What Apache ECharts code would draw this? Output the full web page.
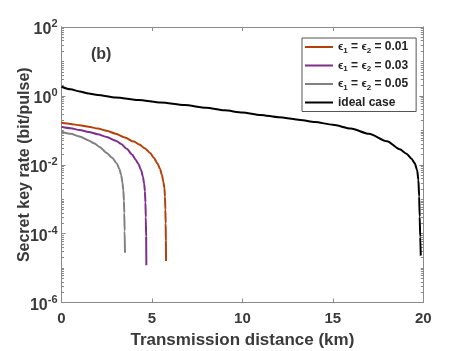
<!DOCTYPE html>
<html><head><meta charset="utf-8">
<script src="https://cdn.jsdelivr.net/npm/echarts@6/dist/echarts.min.js"></script>
<style>html,body{margin:0;padding:0;background:#fff}#c{width:468px;height:351px}</style>
</head><body><div id="c"></div>
<script>
// ---- data ----
const seriesNames = ['0.01', '0.03', '0.05', 'ideal case'];
const x001 = [0, 0.5, 1, 1.5, 2, 2.5, 3, 3.5, 4, 4.3, 4.6, 4.9, 5.1, 5.3, 5.45, 5.55, 5.63, 5.69, 5.72, 5.74, 5.76, 5.77, 5.78];
const y001 = [0.165, 0.153, 0.14, 0.127, 0.113, 0.097, 0.08, 0.062, 0.047, 0.039, 0.03, 0.022, 0.016, 0.011, 0.0075, 0.005, 0.0032, 0.0021, 0.0012, 0.0005, 0.0002, 0.00006, 0.000016];
const x003 = [0, 0.5, 1, 1.5, 2, 2.5, 3, 3.3, 3.6, 3.9, 4.1, 4.25, 4.4, 4.5, 4.57, 4.61, 4.64, 4.66, 4.68, 4.69];
const y003 = [0.127, 0.115, 0.102, 0.09, 0.077, 0.064, 0.05, 0.04, 0.029, 0.02, 0.014, 0.0105, 0.007, 0.0045, 0.0028, 0.0017, 0.0008, 0.0003, 0.00008, 0.000012];
const x005 = [0, 0.5, 1, 1.5, 1.8, 2.1, 2.5, 2.8, 3.05, 3.2, 3.3, 3.37, 3.42, 3.45, 3.47, 3.49, 3.51];
const y005 = [0.091, 0.079, 0.066, 0.051, 0.042, 0.033, 0.022, 0.016, 0.011, 0.0075, 0.005, 0.003, 0.0018, 0.0009, 0.0004, 0.00012, 0.000028];
const xIdeal = [0, 0.5, 1, 1.5, 2, 3, 4.25, 5.5, 6.8, 8, 9, 10, 11, 12, 13.2, 14, 15, 16, 17, 18, 18.7, 19.07, 19.35, 19.53, 19.66, 19.73, 19.77, 19.8, 19.83, 19.86];
const yIdeal = [1.84, 1.55, 1.35, 1.17, 1.06, 0.9, 0.76, 0.64, 0.54, 0.45, 0.38, 0.33, 0.28, 0.24, 0.2, 0.174, 0.145, 0.112, 0.079, 0.048, 0.028, 0.021, 0.015, 0.011, 0.0069, 0.0036, 0.0012, 0.00031, 0.00008, 0.000023];
const xTicks = [0, 5, 10, 15, 20];
const yTicks = [1e-6, 1e-4, 1e-2, 1, 100];
const yExp = [-6, -4, -2, 0, 2];

// minor tick positions on the log axis (k * 10^n)
const yMinor = [];
for (let n = -6; n < 2; n++) {
  for (let k = 1; k <= 9; k++) {
    if (k === 1 && n % 2 === 0) continue;
    yMinor.push(+(k * Math.pow(10, n)).toPrecision(3));
  }
}

const pair = (xs, ys) => xs.map((x, i) => [x, ys[i]]);
const colors = ['#B5400A', '#7E2F8E', '#808080', '#000000'];
const FONT = 'Liberation Sans';
const AX = '#8a8a8a', TXT = '#3a3a3a';

const chart = echarts.init(document.getElementById('c'), null, {renderer: 'canvas'});
const expOf = v => yExp[yTicks.findIndex(t => Math.abs(Math.log10(t) - Math.log10(v)) < 1e-6)];

const baseY = {
  type: 'log', logBase: 10, min: 1e-6, max: 100,
  axisLine: {show: true, lineStyle: {color: AX, width: 1}},
  splitLine: {show: false}, minorTick: {show: false}
};
const chartOpt = {
  animation: false,
  backgroundColor: '#fff',
  textStyle: {fontFamily: FONT},
  title: {text: '(b)', left: 86, top: 42, textStyle: {fontFamily: FONT, fontSize: 16, fontWeight: 'bold', color: TXT}},
  grid: {left: 61.5, right: 44.7, top: 27, bottom: 48.5, show: false, outerBoundsMode: 'none', containLabel: false},
  legend: {
    orient: 'vertical', left: 302, top: 38,
    backgroundColor: '#fff', borderColor: '#555', borderWidth: 1,
    padding: [3, 8, 3, 3], itemGap: 5, itemWidth: 28, itemHeight: 2, icon: 'rect',
    textStyle: {fontFamily: FONT, fontSize: 12, fontWeight: 'bold', color: '#222',
      rich: {
        e: {fontFamily: FONT, fontSize: 11, fontWeight: 'bold', color: '#222'},
        s: {fontFamily: FONT, fontSize: 8, fontWeight: 'bold', color: '#222', padding: [7, 0, 0, 0]},
        t: {fontFamily: FONT, fontSize: 12, fontWeight: 'bold', color: '#222'}
      }},
    formatter: name => name === 'ideal case' ? '{t|ideal case}' : '{e|ϵ}{s|1}{t| = }{e|ϵ}{s|2}{t| = ' + name + '}'
  },
  xAxis: [
    {type: 'value', min: 0, max: 20, interval: 5, position: 'bottom',
      name: 'Transmission distance (km)', nameLocation: 'middle', nameGap: 29, nameMoveOverlap: false,
      nameTextStyle: {fontFamily: FONT, fontSize: 17, fontWeight: 'bold', color: TXT},
      axisLine: {show: true, onZero: false, lineStyle: {color: AX}},
      axisTick: {show: true, inside: true, length: 4, lineStyle: {color: AX}},
      axisLabel: {fontFamily: FONT, fontSize: 15, fontWeight: 'bold', color: TXT, margin: 9},
      splitLine: {show: false}},
    {type: 'value', min: 0, max: 20, interval: 5, position: 'top',
      axisLine: {show: true, onZero: false, lineStyle: {color: AX}},
      axisTick: {show: true, inside: true, length: 4, lineStyle: {color: AX}},
      axisLabel: {show: false}, splitLine: {show: false}}
  ],
  yAxis: [
    Object.assign({}, baseY, {position: 'left',
      name: 'Secret key rate (bit/pulse)', nameLocation: 'middle', nameGap: 29, nameRotate: 90, nameMoveOverlap: false,
      nameTextStyle: {fontFamily: FONT, fontSize: 16, fontWeight: 'bold', color: TXT},
      axisTick: {show: true, inside: true, length: 4, lineStyle: {color: AX}, customValues: yTicks},
      axisLabel: {show: true, margin: 4, customValues: yTicks,
        formatter: v => '{b|10}{s|' + expOf(v) + '}',
        rich: {
          b: {fontFamily: FONT, fontSize: 16, fontWeight: 'bold', color: TXT, padding: [6, 0, 0, 0]},
          s: {fontFamily: FONT, fontSize: 11, fontWeight: 'bold', color: TXT, padding: [0, 0, 6, 0]}
        }}}),
    Object.assign({}, baseY, {position: 'left',
      axisTick: {show: true, inside: true, length: 2.5, lineStyle: {color: AX}, customValues: yMinor},
      axisLabel: {show: false}}),
    Object.assign({}, baseY, {position: 'right',
      axisTick: {show: true, inside: true, length: 4, lineStyle: {color: AX}, customValues: yTicks},
      axisLabel: {show: false}}),
    Object.assign({}, baseY, {position: 'right',
      axisTick: {show: true, inside: true, length: 2.5, lineStyle: {color: AX}, customValues: yMinor},
      axisLabel: {show: false}})
  ],
  series: [
    {name: seriesNames[0], type: 'line', data: pair(x001, y001)},
    {name: seriesNames[1], type: 'line', data: pair(x003, y003)},
    {name: seriesNames[2], type: 'line', data: pair(x005, y005)},
    {name: seriesNames[3], type: 'line', data: pair(xIdeal, yIdeal)}
  ].map((s, i) => Object.assign(s, {
    xAxisIndex: 0, yAxisIndex: 0, showSymbol: false, symbol: 'none', color: colors[i],
    smooth: 0.25, smoothMonotone: 'x',
    lineStyle: {color: colors[i], width: 2}, z: 3
  }))
};
chart.setOption(chartOpt);
</script>
</body></html>
